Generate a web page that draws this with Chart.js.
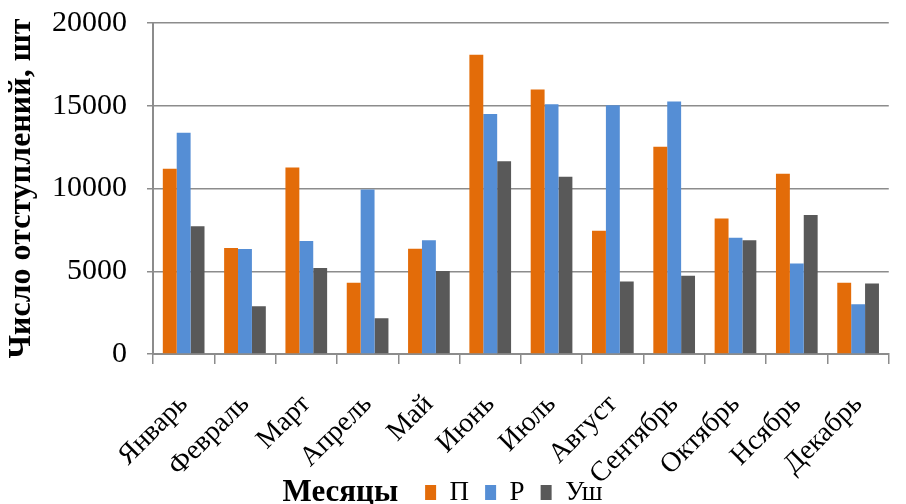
<!DOCTYPE html>
<html>
<head>
<meta charset="utf-8">
<script src="https://cdn.jsdelivr.net/npm/chart.js@4/dist/chart.umd.min.js"></script>
<style>
  html, body { margin: 0; padding: 0; background: #ffffff; }
  #wrap { width: 906px; height: 504px; }
</style>
</head>
<body>
<div id="wrap"><canvas id="c" width="906" height="504"></canvas></div>
<script>
// Monthly counts per category
const months = ['Январь', 'Февраль', 'Март', 'Апрель', 'Май', 'Июнь',
                'Июль', 'Август', 'Сентябрь', 'Октябрь', 'Нсябрь', 'Декабрь'];
const seriesNames = ['П', 'Р', 'Уш'];
const valuesP  = [11200, 6400, 11270, 4300, 6360, 18080, 15980, 7450, 12520, 8180, 10890, 4300];
const valuesR  = [13370, 6340, 6830, 9940, 6870, 14500, 15090, 15030, 15250, 7030, 5470, 3010];
const valuesU  = [7720, 2890, 5190, 2160, 5010, 11650, 10710, 4380, 4730, 6870, 8400, 4260];
const yTicks   = [0, 5000, 10000, 15000, 20000];
const xTitle   = 'Месяцы';
const yTitle   = 'Число отступлений, шт';

const colors = ['#E36C09', '#558ED5', '#595959'];
const serif = "'Liberation Serif', 'Times New Roman', serif";
const gridColor = '#8c8c8c';

// Legend row sits a little left of the plot centre, after the axis caption;
// the slanted month names are allowed to run down past the axis box.
const layoutTweaks = {
  id: 'layoutTweaks',
  afterLayout(chart) {
    const lg = chart.legend;
    if (lg) { lg.left -= 7; lg.right -= 7; }
    const x = chart.scales.x;
    if (x) x.bottom = chart.height;
  }
};

// Axis title for the months, drawn inline just left of the legend entries
const inlineXTitle = {
  id: 'inlineXTitle',
  afterDraw(chart) {
    const boxes = chart.legend && chart.legend.legendHitBoxes;
    if (!boxes || !boxes.length) return;
    const first = boxes[0];
    const ctx = chart.ctx;
    ctx.save();
    ctx.font = 'bold 31px ' + serif;
    ctx.fillStyle = '#000';
    ctx.textAlign = 'right';
    ctx.textBaseline = 'middle';
    ctx.fillText(xTitle, first.left - 27, first.top + first.height / 2);
    ctx.restore();
  }
};

new Chart(document.getElementById('c'), {
  type: 'bar',
  data: {
    labels: months,
    datasets: [
      { label: seriesNames[0], data: valuesP, backgroundColor: colors[0] },
      { label: seriesNames[1], data: valuesR, backgroundColor: colors[1] },
      { label: seriesNames[2], data: valuesU, backgroundColor: colors[2] }
    ]
  },
  options: {
    responsive: false,
    animation: false,
    devicePixelRatio: 1,
    layout: { padding: { top: 23, right: 3, left: 0, bottom: -12 } },
    datasets: { bar: { categoryPercentage: 0.68, barPercentage: 1.0 } },
    plugins: {
      legend: {
        position: 'bottom',
        fullSize: false,
        labels: {
          font: { family: serif, size: 27, lineHeight: 1 },
          color: '#000',
          boxWidth: 11,
          boxHeight: 15,
          padding: 16
        }
      },
      tooltip: { enabled: false },
      title: { display: false }
    },
    scales: {
      x: {
        grid: { display: true, drawOnChartArea: false, drawTicks: true, tickLength: 10, color: gridColor, lineWidth: 1.5, offset: true },
        border: { display: true, color: gridColor, width: 2 },
        ticks: {
          font: { family: serif, size: 28 },
          color: '#000',
          minRotation: 45,
          maxRotation: 45,
          autoSkip: false,
          padding: 24,
          labelOffset: 0
        },
        afterFit(scale) { scale.height = 109; }
      },
      y: {
        min: 0,
        max: 20000,
        afterBuildTicks(scale) { scale.ticks = yTicks.map(v => ({ value: v })); },
        grid: { color: gridColor, lineWidth: 1.5, drawTicks: true, tickLength: 6 },
        border: { display: true, color: gridColor, width: 2 },
        ticks: {
          font: { family: serif, size: 30, lineHeight: 0.2 },
          color: '#000',
          padding: 20,
          callback: v => String(v)
        },
        title: {
          display: true,
          text: yTitle,
          font: { family: serif, size: 32, weight: 'bold' },
          color: '#000',
          padding: { top: 3, bottom: 0 }
        },
        afterFit(scale) { scale.width = 153; }
      }
    }
  },
  plugins: [layoutTweaks, inlineXTitle]
});
</script>
</body>
</html>
